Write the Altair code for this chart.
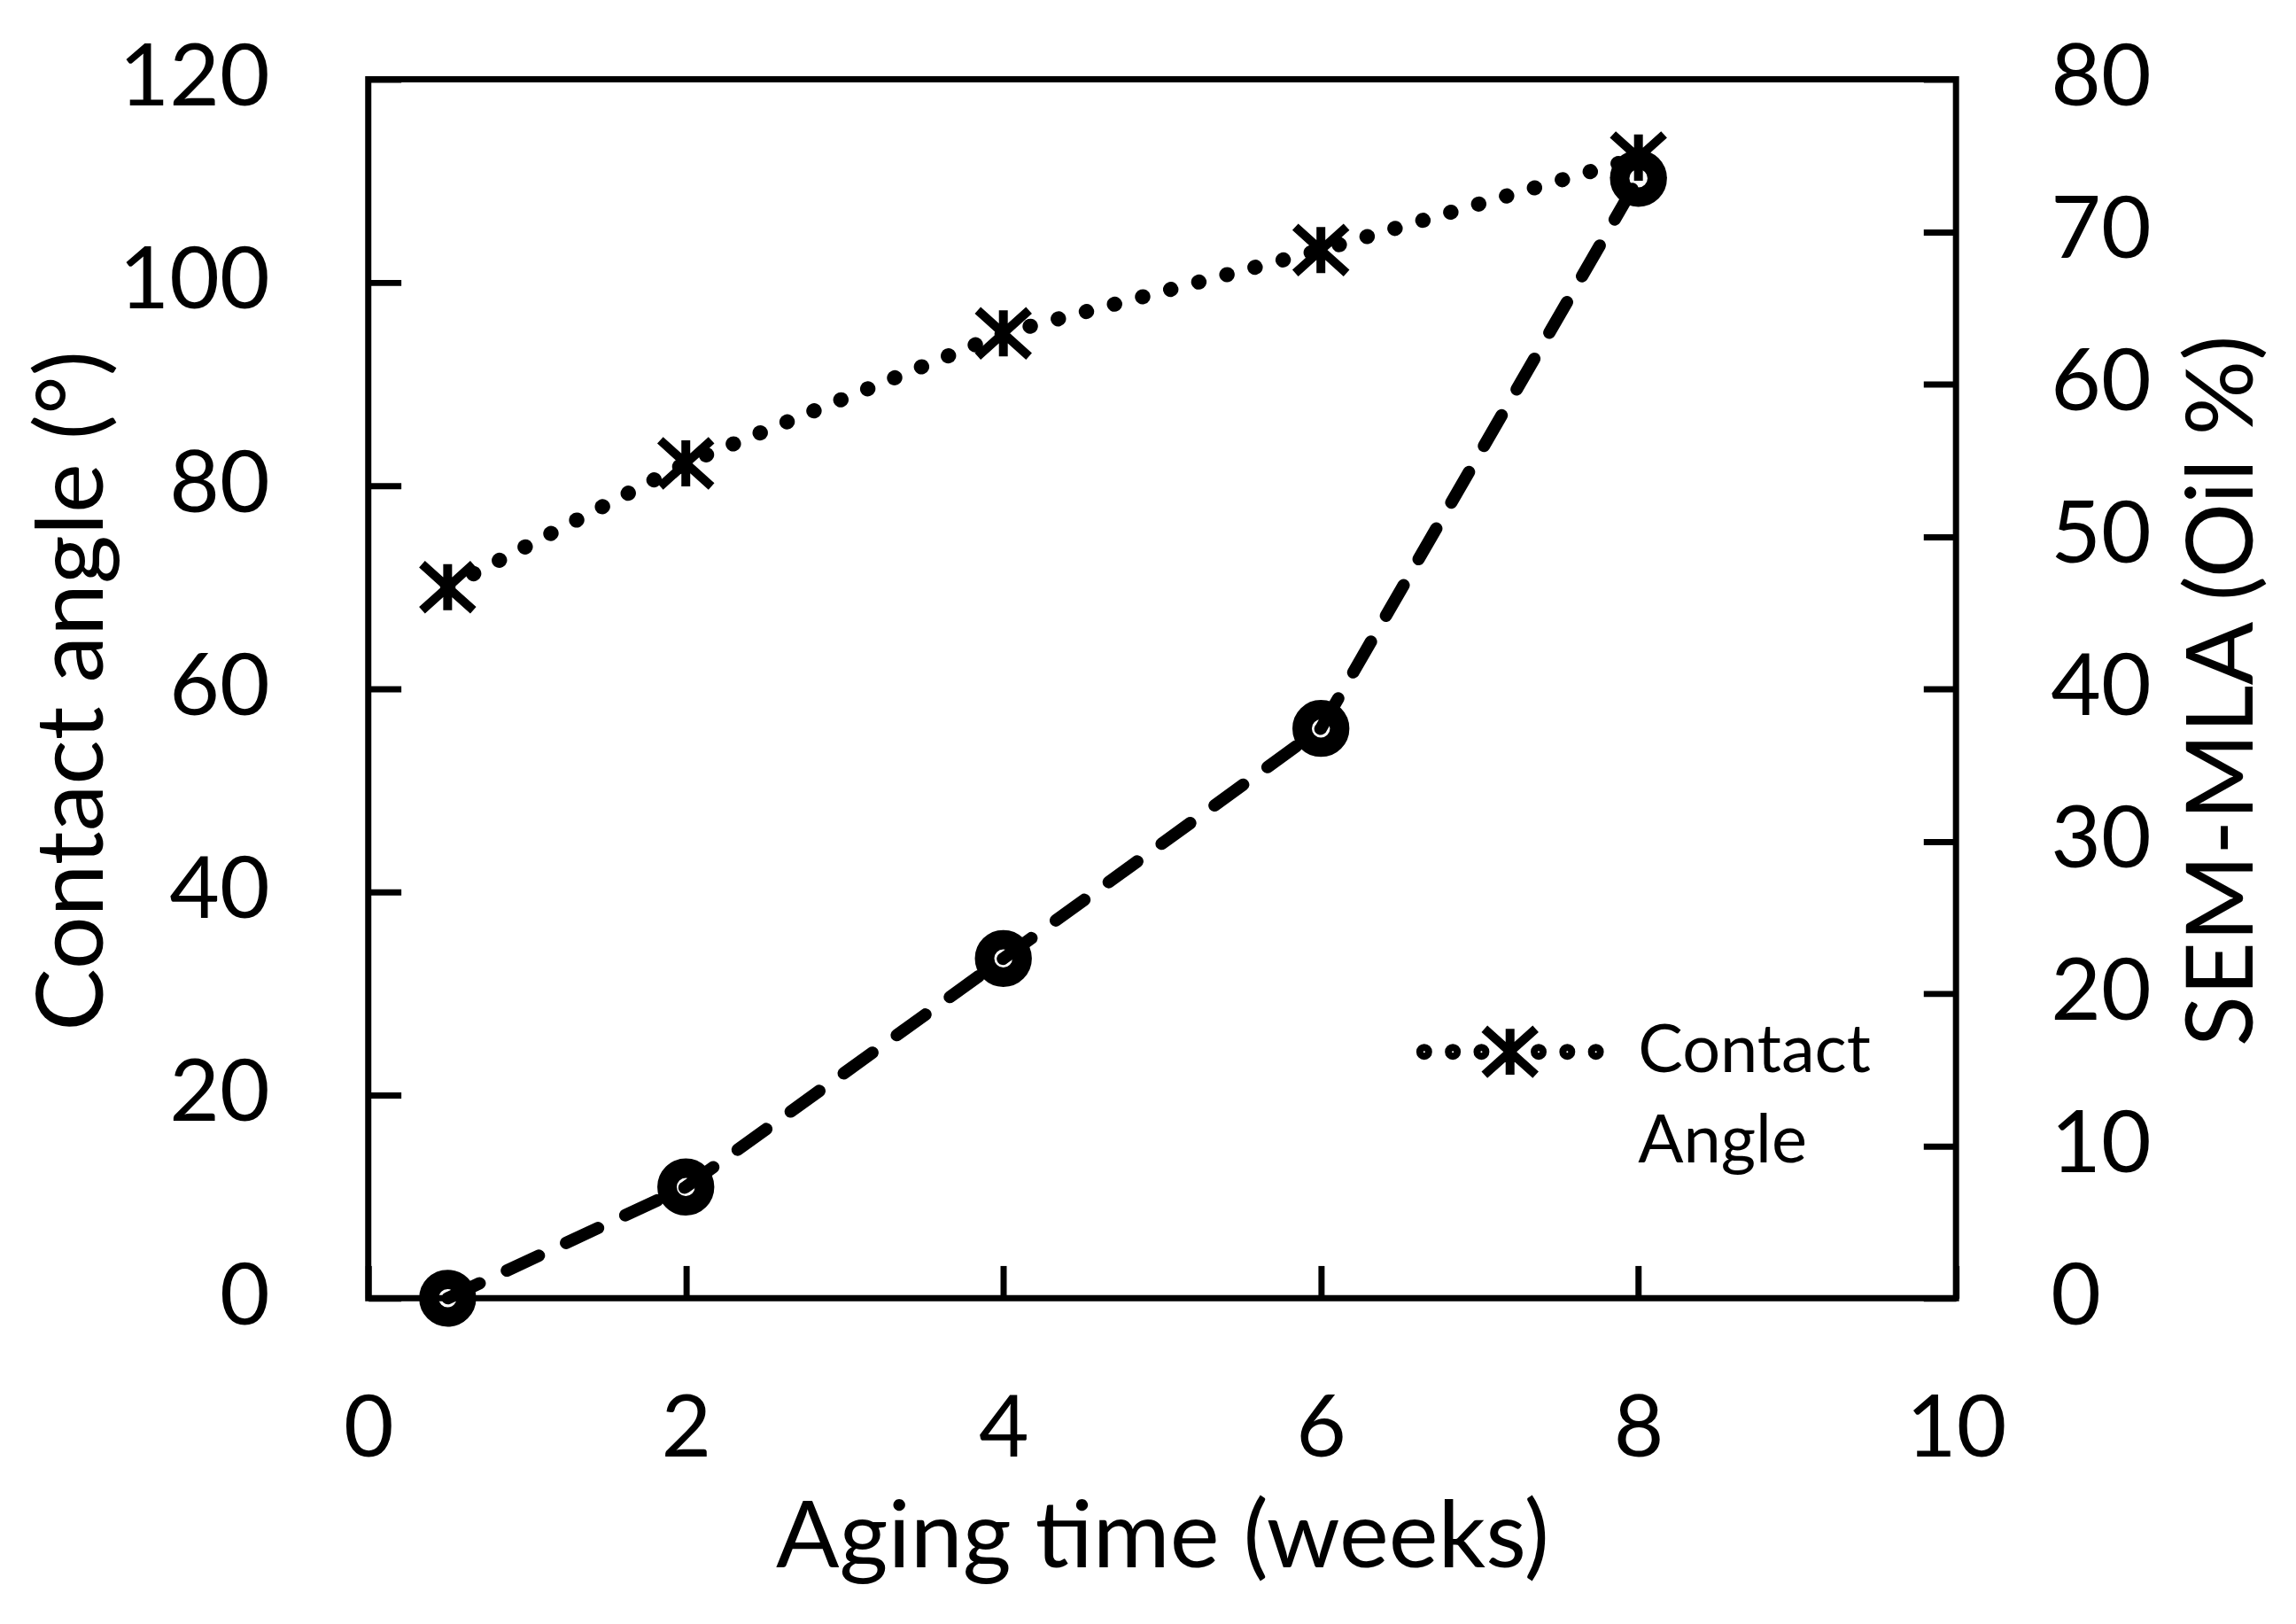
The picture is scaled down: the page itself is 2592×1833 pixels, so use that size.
import altair as alt
import pandas as pd

# ---- data ----
weeks = [0.5, 2, 4, 6, 8]
contact_angle = [70.0, 82.2, 95.0, 103.2, 112.3]
sem_oil = [0.0, 7.3, 22.3, 37.4, 73.5]
x_ticks = [0, 2, 4, 6, 8, 10]
left_ticks = [0, 20, 40, 60, 80, 100, 120]
right_ticks = [0, 10, 20, 30, 40, 50, 60, 70, 80]
series_name = "Contact Angle"

df = pd.DataFrame({"week": weeks, "angle": contact_angle, "oil": sem_oil,
                   "series": [series_name] * len(weeks)})

FONT = "Lato"
W, H = 1798, 1380
TICK = {"expr": "-37"}

ASTERISK = "M0,-0.9L0,0.9M-1,-0.9L1,0.9M-1,0.9L1,-0.9"


def legend_symbol():
    s = 108.0
    dy = 0.0
    r = 4.0 / s
    parts = []
    for cx in (-0.9, -0.6, -0.3, 0.3, 0.6, 0.9):
        parts.append(
            f"M{cx - r:.4f},{dy:.4f}a{r:.4f},{r:.4f} 0 1,0 {2 * r:.4f},0"
            f"a{r:.4f},{r:.4f} 0 1,0 {-2 * r:.4f},0Z"
        )
    a, b = 29 / s, 26 / s
    parts.append(
        f"M0,{dy - b:.4f}L0,{dy + b:.4f}M{-a:.4f},{dy - b:.4f}L{a:.4f},{dy + b:.4f}"
        f"M{-a:.4f},{dy + b:.4f}L{a:.4f},{dy - b:.4f}"
    )
    return "".join(parts)


x_enc = alt.X(
    "week:Q",
    scale=alt.Scale(domain=[0, 10], nice=False, zero=False),
    axis=alt.Axis(values=x_ticks, title="Aging time (weeks)", tickSize=TICK,
                  labelPadding=139, labelFlush=False, titleX=W / 2, titleY=304,
                  titleBaseline="alphabetic", titleAlign="center"),
)

y_left = alt.Y(
    "angle:Q",
    scale=alt.Scale(domain=[0, 120], nice=False),
    axis=alt.Axis(orient="left", values=left_ticks, title="Contact angle (°)",
                  tickSize=TICK, labelPadding=149, labelFlush=False, titleAngle=270,
                  titleX=-301, titleY=692, titleBaseline="alphabetic",
                  titleAlign="center"),
)

y_right = alt.Y(
    "oil:Q",
    scale=alt.Scale(domain=[0, 80], nice=False),
    axis=alt.Axis(orient="right", values=right_ticks, title="SEM-MLA (Oil %)",
                  tickSize=TICK, labelPadding=144, labelFlush=False, titleAngle=270,
                  titleX=335, titleY=692, titleBaseline="alphabetic",
                  titleAlign="center"),
)

base = alt.Chart(df)

ca_line = base.mark_line(color="black", strokeWidth=17, strokeDash=[0.5, 32.4],
                         strokeCap="round", clip=False).encode(x=x_enc, y=y_left)

ca_pts = base.mark_point(filled=False, size=3364, strokeWidth=10, opacity=1,
                         clip=False).encode(
    x=x_enc,
    y=y_left,
    color=alt.Color(
        "series:N",
        scale=alt.Scale(domain=[series_name], range=["black"]),
        legend=alt.Legend(
            orient="none", legendX=1180, legendY=988, title=None,
            symbolType=legend_symbol(), symbolSize=46656, symbolStrokeWidth=10,
            symbolStrokeColor="black", symbolFillColor="transparent",
            labelExpr="['Contact', 'Angle']", labelFont=FONT, labelFontSize=76,
            labelColor="black", labelOffset=32, labelLimit=0,
            labelBaseline="middle", padding=0,
        ),
    ),
)

sem_line = base.mark_line(color="black", strokeWidth=14, strokeDash=[40, 34],
                          strokeCap="round", clip=False).encode(x=x_enc, y=y_right)

sem_pts = base.mark_point(shape="circle", filled=False, size=1810, strokeWidth=22,
                          color="black", opacity=1, clip=False).encode(x=x_enc, y=y_right)

left = alt.layer(ca_line, ca_pts)
right = alt.layer(sem_line, sem_pts)

chart = (
    alt.layer(left, right)
    .resolve_scale(y="independent")
    .properties(
        width=W, height=H,
        padding={"left": 409, "top": 79, "right": 377, "bottom": 366},
        autosize=alt.AutoSizeParams(type="none"),
        background="white",
    )
    .configure(style={"guide-label": {"lineHeight": 102}})
    .configure_view(stroke="black", strokeWidth=7)
    .configure_point(shape=ASTERISK)
    .configure_axis(
        labelFont=FONT, labelFontSize=98, labelColor="black",
        titleFont=FONT, titleFontSize=106, titleFontWeight="normal", titleColor="black",
        tickColor="black", tickWidth=7, grid=False, domain=False,
    )
)

chart.save("out.html", embed_options={"renderer": "svg", "actions": False})
